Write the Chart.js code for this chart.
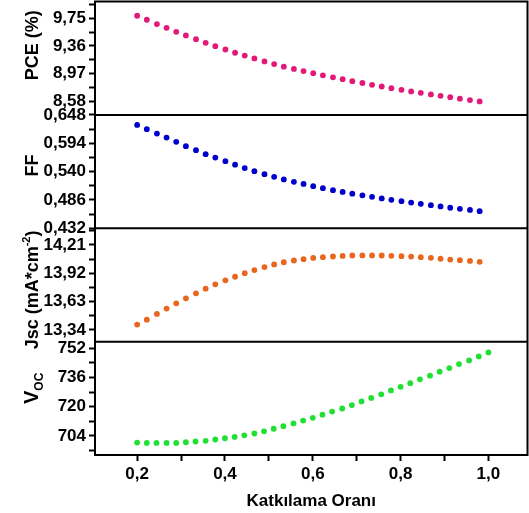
<!DOCTYPE html>
<html>
<head>
<meta charset="utf-8">
<script src="https://cdn.jsdelivr.net/npm/chart.js@4"></script>
<style>
  html, body { margin: 0; padding: 0; background: #fff; }
  canvas { display: block; }
</style>
</head>
<body>
<canvas id="chart" width="529" height="513"></canvas>
<script>
// x values (Katkılama Oranı)
const xShort = [0.200, 0.222, 0.245, 0.267, 0.289, 0.311, 0.334, 0.356, 0.378, 0.401, 0.423, 0.445,
  0.467, 0.490, 0.512, 0.534, 0.557, 0.579, 0.601, 0.623, 0.646, 0.668, 0.690, 0.713,
  0.735, 0.757, 0.779, 0.802, 0.824, 0.846, 0.869, 0.891, 0.913, 0.935, 0.958, 0.980];
const xVoc = [0.200, 0.222, 0.244, 0.267, 0.289, 0.311, 0.333, 0.356, 0.378, 0.400, 0.422, 0.444,
  0.467, 0.489, 0.511, 0.533, 0.556, 0.578, 0.600, 0.622, 0.644, 0.667, 0.689, 0.711,
  0.733, 0.756, 0.778, 0.800, 0.822, 0.844, 0.867, 0.889, 0.911, 0.933, 0.956, 0.978, 1.000];

// series values
const pceValues = [9.783, 9.727, 9.666, 9.614, 9.558, 9.507, 9.455, 9.404, 9.357, 9.310, 9.264, 9.224,
  9.184, 9.143, 9.105, 9.069, 9.037, 9.007, 8.978, 8.947, 8.919, 8.893, 8.866, 8.840,
  8.815, 8.791, 8.768, 8.745, 8.722, 8.702, 8.680, 8.660, 8.641, 8.620, 8.600, 8.581];
const ffValues = [0.6289, 0.6207, 0.6124, 0.6048, 0.5966, 0.5883, 0.5807, 0.5731, 0.5667, 0.5597, 0.5532, 0.5466,
  0.5407, 0.5350, 0.5299, 0.5250, 0.5205, 0.5164, 0.5122, 0.5083, 0.5046, 0.5012, 0.4978, 0.4948,
  0.4918, 0.4888, 0.4861, 0.4835, 0.4810, 0.4785, 0.4760, 0.4735, 0.4711, 0.4690, 0.4669, 0.4646];
const jscValues = [13.394, 13.445, 13.503, 13.558, 13.612, 13.663, 13.714, 13.762, 13.806, 13.847, 13.884, 13.920,
  13.952, 13.983, 14.010, 14.032, 14.050, 14.064, 14.076, 14.084, 14.091, 14.097, 14.101, 14.102,
  14.102, 14.101, 14.098, 14.094, 14.090, 14.084, 14.077, 14.068, 14.060, 14.053, 14.046, 14.036];
const vocValues = [700.3, 700.1, 700.1, 700.1, 700.1, 700.5, 700.9, 701.3, 702.0, 702.7, 703.4, 704.3,
  705.3, 706.5, 707.9, 709.3, 710.8, 712.4, 713.9, 715.6, 717.3, 719.0, 720.9, 722.9,
  724.8, 726.8, 728.9, 730.9, 732.9, 735.0, 737.0, 739.2, 741.2, 743.4, 745.4, 747.6, 749.8];

// tick labels
const xTicks = [0.2, 0.4, 0.6, 0.8, 1.0];
const pceTicks = [8.58, 8.97, 9.36, 9.75];
const ffTicks = [0.432, 0.486, 0.540, 0.594, 0.648];
const jscTicks = [13.34, 13.63, 13.92, 14.21];
const vocTicks = [704, 720, 736, 752];

const BOLD = '"Liberation Sans", Arial, sans-serif';
const comma = (v, d) => v.toFixed(d).replace('.', ',');

// majors plus half-step minor ticks
function withMinors(majors) {
  const step = majors[1] - majors[0];
  const out = [];
  majors.forEach(v => { out.push(v - step / 2); out.push(v); });
  out.push(majors[majors.length - 1] + step / 2);
  return out;
}

function yScale(min, max, majors, decimals) {
  const all = withMinors(majors);
  return {
    type: 'linear',
    position: 'left',
    stack: 'panels',
    stackWeight: 1,
    min: min,
    max: max,
    afterFit: s => {
      s.width = 95;
      s.paddingTop = 0;
      s.paddingBottom = 0;
    },
    afterBuildTicks: s => {
      s.ticks = all.filter(v => v >= min && v <= max).map(v => ({ value: v }));
    },
    ticks: {
      autoSkip: false,
      color: '#000',
      padding: 3,
      font: { family: BOLD, size: 17, weight: 'bold' },
      callback: v => majors.includes(v) ? comma(v, decimals) : ''
    },
    grid: { drawOnChartArea: false, tickLength: 6, tickWidth: 2, tickColor: '#000' },
    border: { display: false }
  };
}

const toPoints = (xs, ys) => ys.map((y, i) => ({ x: xs[i], y: y }));

function dotSet(label, xs, ys, color, axis) {
  return {
    label: label,
    data: toPoints(xs, ys),
    yAxisID: axis,
    backgroundColor: color,
    borderColor: color,
    borderWidth: 0,
    pointRadius: 2.9,
    showLine: false
  };
}

// rotated axis titles, centred on each panel
const titles = [
  { axis: 'yPce', dy: -13, parts: [{ t: 'PCE (%)', size: 18 }] },
  { axis: 'yFf', dy: -6, parts: [{ t: 'FF', size: 18 }] },
  { axis: 'yJsc', dy: 5, parts: [{ t: 'Jsc (mA*cm', size: 18 }, { t: '-2', size: 11, shift: -8 }, { t: ')', size: 18 }] },
  { axis: 'yVoc', dy: -10, parts: [{ t: 'V', size: 20 }, { t: 'OC', size: 12, shift: 5 }] }
];

const framePlugin = {
  id: 'frame',
  afterDraw(chart) {
    const { ctx, chartArea: a } = chart;
    ctx.save();
    ctx.strokeStyle = '#000';
    ctx.lineWidth = 2;
    ctx.strokeRect(a.left, a.top, a.right - a.left, a.bottom - a.top);
    ['yFf', 'yJsc', 'yVoc'].forEach(id => {
      const s = chart.scales[id];
      ctx.beginPath();
      ctx.moveTo(a.left, s.top);
      ctx.lineTo(a.right, s.top);
      ctx.stroke();
    });

    ctx.fillStyle = '#000';
    ctx.textBaseline = 'alphabetic';
    titles.forEach(ti => {
      const s = chart.scales[ti.axis];
      const cy = (s.top + s.bottom) / 2 + ti.dy;
      let total = 0;
      ti.parts.forEach(p => {
        ctx.font = 'bold ' + p.size + 'px ' + BOLD;
        p.w = ctx.measureText(p.t).width;
        total += p.w;
      });
      ctx.save();
      ctx.translate(38, cy);
      ctx.rotate(-Math.PI / 2);
      let x = -total / 2;
      ti.parts.forEach(p => {
        ctx.font = 'bold ' + p.size + 'px ' + BOLD;
        ctx.fillText(p.t, x, p.shift || 0);
        x += p.w;
      });
      ctx.restore();
    });
    ctx.restore();
  }
};

new Chart(document.getElementById('chart'), {
  type: 'scatter',
  data: {
    datasets: [
      dotSet('PCE (%)', xShort, pceValues, '#E3197A', 'yPce'),
      dotSet('FF', xShort, ffValues, '#0000CC', 'yFf'),
      dotSet('Jsc', xShort, jscValues, '#E8661E', 'yJsc'),
      dotSet('Voc', xVoc, vocValues, '#22E033', 'yVoc')
    ]
  },
  options: {
    responsive: false,
    animation: false,
    layout: { autoPadding: false, padding: { top: 1.5, right: 1.5, left: 0, bottom: 0 } },
    plugins: { legend: { display: false }, tooltip: { enabled: false } },
    scales: {
      x: {
        type: 'linear',
        min: 0.104,
        max: 1.089,
        afterFit: s => {
          s.height = 58;
          s.paddingLeft = 0;
          s.paddingRight = 0;
        },
        afterBuildTicks: s => {
          s.ticks = withMinors(xTicks).filter(v => v >= 0.104 && v <= 1.089).map(v => ({ value: v }));
        },
        ticks: {
          autoSkip: false,
          maxRotation: 0,
          color: '#000',
          padding: 3,
          font: { family: BOLD, size: 17, weight: 'bold' },
          callback: v => xTicks.some(t => Math.abs(t - v) < 1e-9) ? comma(v, 1) : ''
        },
        grid: { drawOnChartArea: false, tickLength: 6, tickWidth: 2, tickColor: '#000' },
        border: { display: false },
        title: {
          display: true,
          text: 'Katkılama Oranı',
          color: '#000',
          font: { family: BOLD, size: 17, weight: 'bold' },
          padding: { top: 0, bottom: 1 }
        }
      },
      // declared bottom-to-top: later stacked axes are placed higher
      yVoc: yScale(693.5, 755.7, vocTicks, 0),
      yJsc: yScale(13.22, 14.38, jscTicks, 2),
      yFf: yScale(0.432, 0.648, ffTicks, 3),
      yPce: yScale(8.393, 9.983, pceTicks, 2)
    }
  },
  plugins: [framePlugin]
});
</script>
</body>
</html>
